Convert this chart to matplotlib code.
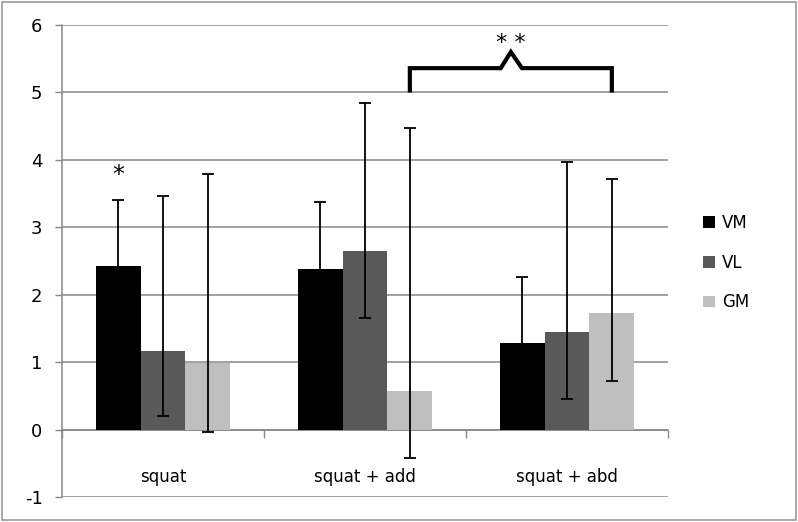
import matplotlib.pyplot as plt
import numpy as np
from matplotlib.patches import Rectangle, Patch

# data
categories = ['squat', 'squat + add', 'squat + abd']
series = ['VM', 'VL', 'GM']
vm = [2.42, 2.38, 1.28]
vl = [1.17, 2.65, 1.45]
gm = [0.99, 0.57, 1.73]
vm_err_up = [0.99, 0.99, 0.99]
vl_err_up = [2.30, 2.20, 2.52]
gm_err_up = [2.80, 3.90, 1.99]
vm_err_lo = [1.0, 1.0, 1.0]
vl_err_lo = [0.97, 1.0, 1.0]
gm_err_lo = [1.02, 0.99, 1.01]
colors = ['#000000', '#595959', '#bfbfbf']
yticks = [-1, 0, 1, 2, 3, 4, 5, 6]

# significance marks
star_y = 3.77
bracket_y = 5.36
bracket_foot = 5.03
bracket_peak = 5.60
stars2_y = 5.73

fig = plt.figure(figsize=(7.98, 5.22), dpi=100)
ax = fig.add_axes([62 / 798, 25 / 522, 606 / 798, 472 / 522])

w = 0.222
x = np.arange(len(categories))
values = [vm, vl, gm]
err_up = [vm_err_up, vl_err_up, gm_err_up]
err_lo = [vm_err_lo, vl_err_lo, gm_err_lo]

for j in range(3):
    pos = x + (j - 1) * w
    ax.bar(pos, values[j], width=w, color=colors[j], zorder=3)
    ax.errorbar(pos, values[j], yerr=[err_lo[j], err_up[j]], fmt='none',
                ecolor='black', elinewidth=1.3, capsize=4.2, capthick=1.3, zorder=4)

ax.set_xlim(-0.5, 2.5)
ax.set_ylim(-1, 6)
ax.set_yticks(yticks)
ax.set_yticklabels([str(t) for t in yticks])
ax.yaxis.grid(True, color='#888888', linewidth=1.1, zorder=0)
ax.tick_params(axis='y', length=5, width=1, color='#888888', pad=9, labelsize=13)

# category boundaries as major ticks, names on minor ticks
ax.set_xticks([-0.5, 0.5, 1.5, 2.5])
ax.set_xticklabels([])
ax.set_xticks(x, minor=True)
ax.set_xticklabels(categories, minor=True)
ax.tick_params(axis='x', which='major', length=6, width=1, color='#888888', direction='out')
ax.tick_params(axis='x', which='minor', length=0, pad=28, labelsize=12)

for s in ['top', 'right']:
    ax.spines[s].set_visible(False)
ax.spines['bottom'].set_position(('data', 0))
ax.spines['bottom'].set_color('#888888')
ax.spines['left'].set_color('#888888')
ax.spines['bottom'].set_linewidth(1.1)
ax.spines['left'].set_linewidth(1.1)

# single star over VM squat
ax.text(x[0] - w, star_y, '*', ha='center', va='center', fontsize=17)

# bracket between GM add and GM abd
left = x[1] + w
right = x[2] + w
mid = (left + right) / 2
bx = [left, left, mid - 0.05, mid, mid + 0.055, right, right]
by = [bracket_foot, bracket_y, bracket_y, bracket_peak, bracket_y, bracket_y, bracket_foot]
ax.plot(bx, by, color='black', linewidth=3, solid_joinstyle='miter', zorder=5, clip_on=False)
ax.text(mid, stars2_y, '* *', ha='center', va='center', fontsize=16)

handles = [Patch(facecolor=c) for c in colors]
fig.legend(handles, series, loc='upper left', bbox_to_anchor=(703 / 798, 1 - 214 / 522),
           frameon=False, fontsize=12, handlelength=0.72, handleheight=0.72,
           handletextpad=0.4, labelspacing=1.3, borderpad=0, borderaxespad=0)

fig.patches.append(Rectangle((0.002, 0.003), 0.996, 0.994, transform=fig.transFigure,
                             fill=False, edgecolor='#999999', linewidth=1.2))

fig.savefig('out.png', dpi=100)
